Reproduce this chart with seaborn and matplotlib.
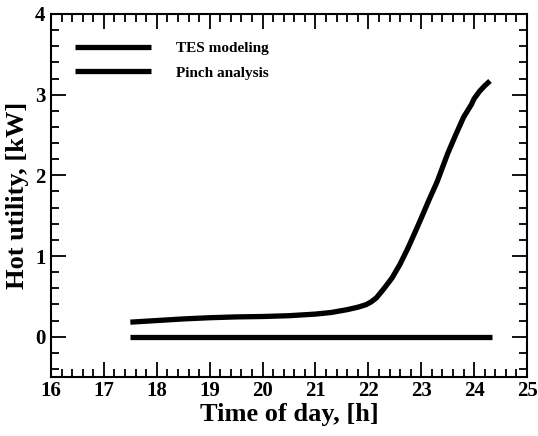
import numpy as np
import pandas as pd
import matplotlib
matplotlib.use("Agg")
import matplotlib.pyplot as plt
import seaborn as sns
from matplotlib.ticker import MultipleLocator

tes_x = [17.5, 18, 18.5, 19, 19.5, 20, 20.5, 21, 21.3, 21.6, 21.8, 21.95, 22.05, 22.15,
         22.3, 22.45, 22.6, 22.75, 22.9, 23, 23.15, 23.3, 23.5, 23.65, 23.8, 23.95, 24.0,
         24.1, 24.2, 24.3]
tes_y = [0.18, 0.20, 0.22, 0.235, 0.245, 0.25, 0.26, 0.28, 0.30, 0.335, 0.365, 0.395,
         0.43, 0.48, 0.6, 0.73, 0.9, 1.1, 1.32, 1.47, 1.7, 1.92, 2.27, 2.5, 2.72, 2.88,
         2.95, 3.04, 3.11, 3.17]
pinch_x = [17.5, 24.33]
pinch_y = [0.0, 0.0]
series = ["TES modeling", "Pinch analysis"]

df = pd.concat([
    pd.DataFrame({"x": tes_x, "y": tes_y, "s": series[0]}),
    pd.DataFrame({"x": pinch_x, "y": pinch_y, "s": series[1]}),
])

sns.set_style("ticks", {"text.color": "black", "axes.labelcolor": "black",
                        "xtick.color": "black", "ytick.color": "black",
                        "axes.edgecolor": "black"})
plt.rcParams["font.family"] = ["Liberation Serif", "DejaVu Serif"]
plt.rcParams["font.weight"] = "bold"
plt.rcParams["lines.solid_capstyle"] = "butt"

fig = plt.figure(figsize=(5.38, 4.36), dpi=100)
ax = fig.add_axes([0.0948, 0.1353, 0.8848, 0.8326])

sns.lineplot(data=df, x="x", y="y", hue="s", palette=["black", "black"],
             linewidth=3.8, ax=ax, sort=False, estimator=None, legend=True)
for ln in ax.get_lines():
    ln.set_solid_capstyle("butt")

ax.set_xlim(16, 25)
ax.set_ylim(-0.5, 4)
ax.xaxis.set_major_locator(MultipleLocator(1))
ax.xaxis.set_minor_locator(MultipleLocator(0.2))
ax.yaxis.set_major_locator(MultipleLocator(1))
ax.yaxis.set_minor_locator(MultipleLocator(0.2))
ax.tick_params(which="both", direction="in", top=True, right=True, width=1.3,
               labelsize=15, colors="black")
ax.tick_params(axis="x", pad=3)
ax.tick_params(axis="y", pad=4)
ax.tick_params(which="major", length=11)
ax.tick_params(which="minor", length=5.5)
ax.set_yticks([0, 1, 2, 3, 4])
for s in ax.spines.values():
    s.set_linewidth(1.5)
    s.set_color("black")
for lab in ax.get_xticklabels() + ax.get_yticklabels():
    lab.set_fontweight("bold")

ax.set_xlabel("Time of day, [h]", fontsize=19, fontweight="bold", labelpad=1, color="black")
ax.set_ylabel("Hot utility, [kW]", fontsize=19, fontweight="bold", labelpad=4, color="black")

leg = ax.legend(loc="upper left", bbox_to_anchor=(0.021, 0.963), frameon=False,
                handlelength=5.0, prop={"family": "Liberation Serif", "weight": "bold", "size": 11},
                handletextpad=1.6, labelspacing=0.72, title=None)
for l in leg.get_lines():
    l.set_linewidth(3.8)
    l.set_solid_capstyle("butt")
for t in leg.get_texts():
    t.set_color("black")

fig.savefig("out.png", dpi=100)
